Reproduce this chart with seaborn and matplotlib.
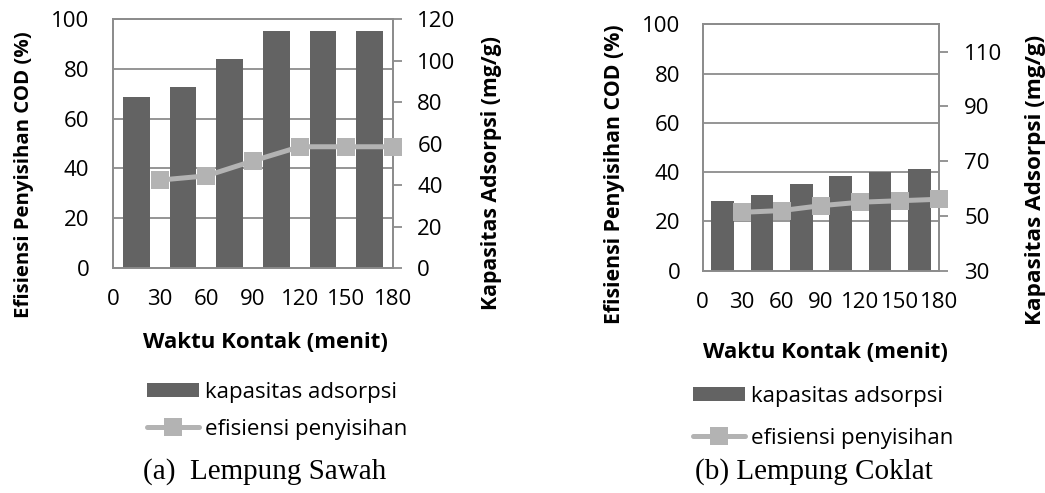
import numpy as np
import pandas as pd
import matplotlib
matplotlib.use("Agg")
import matplotlib.pyplot as plt
from matplotlib.patches import Patch
from matplotlib.lines import Line2D
import seaborn as sns

# ---------------- data ----------------
waktu = [30, 60, 90, 120, 150, 180]            # contact time (menit)
x_ticks = [0, 30, 60, 90, 120, 150, 180]

# (a) Lempung Sawah
kap_sawah = [82.6, 87.0, 100.8, 114.0, 114.0, 114.0]   # mg/g (right axis)
efi_sawah = [35.3, 37.0, 43.0, 48.7, 48.7, 48.7]       # % (left axis)

# (b) Lempung Coklat
kap_coklat = [55.6, 57.6, 61.7, 64.6, 66.2, 67.1]      # mg/g (right axis)
efi_coklat = [23.7, 24.4, 26.4, 27.8, 28.4, 29.0]      # % (left axis)

left_ticks = [0, 20, 40, 60, 80, 100]
right_ticks_a = [0, 20, 40, 60, 80, 100, 120]
right_ticks_b = [30, 50, 70, 90, 110]

lbl_bar = "kapasitas adsorpsi"
lbl_line = "efisiensi penyisihan"
xlab = "Waktu Kontak (menit)"
ylab_l = "Efisiensi Penyisihan COD (%)"
ylab_r = "Kapasitas Adsorpsi (mg/g)"
cap_a = "(a)  Lempung Sawah"
cap_b = "(b) Lempung Coklat"

# ---------------- style ----------------
sns.set_style("white")
plt.rcParams["font.family"] = ["Open Sans", "DejaVu Sans"]

BAR = "#636363"
LINE = "#B3B3B3"
GRID = "#8C8C8C"
TXT = "#000000"

fig = plt.figure(figsize=(10.45, 4.93), dpi=100)

def panel(rect, kap, efi, rlim, rticks, fs_tick, fs_yl, fs_yr, ylab_pos, xlab_pos,
          lpad, rpad):
    ax = fig.add_axes(rect)
    ax.set_xlim(0, 180)
    ax.set_ylim(0, 100)
    ax.set_yticks(left_ticks)
    ax.set_xticks(x_ticks)
    ax.grid(axis="y", color=GRID, lw=1.3)
    ax.grid(axis="x", visible=False)
    for s in ax.spines.values():
        s.set_color(GRID)
        s.set_linewidth(1.3)
    ax.tick_params(axis="y", length=0, pad=lpad, labelsize=fs_tick, labelcolor=TXT)
    ax.tick_params(axis="x", length=0, pad=15, labelsize=fs_tick, labelcolor=TXT)

    # bars on secondary (right) axis
    axb = ax.twinx()
    edges = np.array(x_ticks, dtype=float)
    mids = (edges[:-1] + edges[1:]) / 2
    dfb = pd.DataFrame({"x": mids, "kap": kap})
    sns.barplot(data=dfb, x="x", y="kap", native_scale=True, width=0.57,
                color=BAR, saturation=1, ax=axb, linewidth=0)
    axb.set_xlim(0, 180)
    axb.set_ylim(*rlim)
    axb.set_yticks(rticks)
    axb.set_xlabel("")
    axb.set_ylabel("")
    for s in axb.spines.values():
        s.set_color(GRID)
        s.set_linewidth(1.3)
    axb.tick_params(axis="y", length=6.5, width=1.3, color=GRID, pad=rpad,
                    labelsize=fs_tick, labelcolor=TXT)
    axb.tick_params(axis="x", length=0)

    # line on top, in left-axis units
    axl = ax.twinx()
    axl.set_ylim(0, 100)
    dfl = pd.DataFrame({"x": waktu, "efi": efi})
    sns.lineplot(data=dfl, x="x", y="efi", ax=axl, color=LINE, lw=3.6,
                 marker="s", markersize=13, markeredgewidth=0,
                 markerfacecolor=LINE, clip_on=False)
    axl.set_xlim(0, 180)
    axl.set_yticks([])
    axl.set_ylabel("")
    axl.set_xlabel("")
    for s in axl.spines.values():
        s.set_visible(False)

    ax.set_xlabel(xlab, fontsize=16, fontweight="bold", color=TXT)
    ax.xaxis.label.set_va("center")
    ax.xaxis.set_label_coords(*xlab_pos)
    ax.set_ylabel(ylab_l, fontsize=fs_yl, fontweight="bold", color=TXT)
    ax.yaxis.label.set_va("center")
    ax.yaxis.set_label_coords(ylab_pos[0], ylab_pos[1])
    axb.set_ylabel(ylab_r, fontsize=fs_yr, fontweight="bold", color=TXT)
    axb.yaxis.label.set_va("center")
    axb.yaxis.set_label_coords(ylab_pos[2], ylab_pos[3])
    return ax

W, H = 1045, 493
def rect(x0, x1, yt, yb):
    return [x0 / W, 1 - yb / H, (x1 - x0) / W, (yb - yt) / H]

panel(rect(113, 393, 19, 268), kap_sawah, efi_sawah, (0, 120), right_ticks_a,
      16, 14.7, 15.3, (-0.318, 0.373, 1.35, 0.382), (0.546, -0.301), 17, 11)
panel(rect(702.7, 939.3, 24.3, 270.7), kap_coklat, efi_coklat, (30, 120), right_ticks_b,
      16, 15.3, 16.2, (-0.371, 0.392, 1.405, 0.37), (0.517, -0.334), 16, 11.5)

handles = [Patch(facecolor=BAR, edgecolor="none"),
           Line2D([0], [0], color=LINE, lw=3.6, marker="s", markersize=13,
                  markeredgewidth=0, markerfacecolor=LINE)]
labels = [lbl_bar, lbl_line]
for (lx, ly, sp) in [(147, 382, 0.71), (693, 386, 0.93)]:
    fig.legend(handles, labels, loc="upper left",
               bbox_to_anchor=(lx / W, 1 - ly / H), frameon=False,
               fontsize=16, handlelength=2.35, handleheight=0.6,
               handletextpad=0.25, borderpad=0, borderaxespad=0,
               labelspacing=sp, labelcolor=TXT)

fig.text(143 / W, 1 - 472 / H, cap_a, family="Liberation Serif", fontsize=21,
         ha="left", va="center", color=TXT)
fig.text(695 / W, 1 - 472 / H, cap_b, family="Liberation Serif", fontsize=21,
         ha="left", va="center", color=TXT)

fig.savefig("out.png", dpi=100)
